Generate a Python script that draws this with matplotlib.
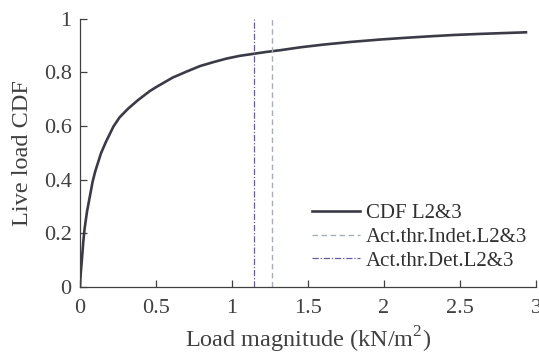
import matplotlib
matplotlib.use('Agg')
import matplotlib.pyplot as plt

plt.rcParams['font.family'] = ['Liberation Serif', 'DejaVu Serif']
plt.rcParams['mathtext.fontset'] = 'custom'
plt.rcParams['mathtext.rm'] = 'Liberation Serif'

# values
load = [0, 0.002, 0.005, 0.011, 0.016, 0.022, 0.03, 0.046, 0.06, 0.083, 0.1, 0.138,
        0.17, 0.22, 0.26, 0.315, 0.38, 0.458, 0.5, 0.61, 0.7, 0.79, 0.88, 0.965,
        1.05, 1.145, 1.23, 1.316, 1.45, 1.6, 1.78, 1.974, 2.13, 2.3, 2.46, 2.63,
        2.78, 2.934]
cdf = [0, 0.025, 0.05, 0.09, 0.125, 0.17, 0.215, 0.28, 0.322, 0.392, 0.43, 0.498,
       0.54, 0.598, 0.632, 0.664, 0.696, 0.73, 0.745, 0.781, 0.803, 0.824, 0.839, 0.852,
       0.862, 0.87, 0.877, 0.883, 0.894, 0.904, 0.914, 0.923, 0.929, 0.935, 0.94, 0.944,
       0.947, 0.950]
thr_indet = 1.263
thr_det = 1.147

fig = plt.figure(figsize=(5.39, 3.57), dpi=100)
ax = fig.add_axes([0.1484, 0.197, 0.846, 0.75])

dark = '#3b3b47'
ax.plot(load, cdf, color=dark, lw=1.9, label='CDF L2&3')
ax.plot([thr_indet, thr_indet], [0, 1], color='#a6aeb6', lw=1.0, ls=(0, (4, 2.5)),
        label='Act.thr.Indet.L2&3')
ax.plot([thr_det, thr_det], [0, 1], color='#6a5aa3', lw=0.9, ls=(0, (5, 1.5, 1, 1.5)),
        label='Act.thr.Det.L2&3')

ax.set_xlim(0, 3)
ax.set_ylim(0, 1)
ax.set_xticks([0, 0.5, 1, 1.5, 2, 2.5, 3])
ax.set_xticklabels(['0', '0.5', '1', '1.5', '2', '2.5', '3'])
ax.set_yticks([0, 0.2, 0.4, 0.6, 0.8, 1])
ax.set_yticklabels(['0', '0.2', '0.4', '0.6', '0.8', '1'])
for s in ['top', 'right']:
    ax.spines[s].set_visible(False)
for s in ['left', 'bottom']:
    ax.spines[s].set_color('#404040')
    ax.spines[s].set_linewidth(0.9)
ax.tick_params(direction='in', length=5, width=0.9, colors='#404040',
               labelsize=16, labelcolor='#404040')
ax.tick_params(axis='x', pad=9)
ax.tick_params(axis='y', pad=6)

ax.set_xlabel('Load magnitude (kN/m$^2$)', fontsize=17.5, color='#404040', labelpad=5)
ax.set_ylabel('Live load CDF', fontsize=17.5, color='#404040', labelpad=8)

leg = ax.legend(loc='lower right', bbox_to_anchor=(1.022, -0.01), frameon=False,
                fontsize=15, handlelength=2.3, handletextpad=0.3, labelspacing=0.2,
                labelcolor='#303030')

fig.savefig('out.png', dpi=100)
